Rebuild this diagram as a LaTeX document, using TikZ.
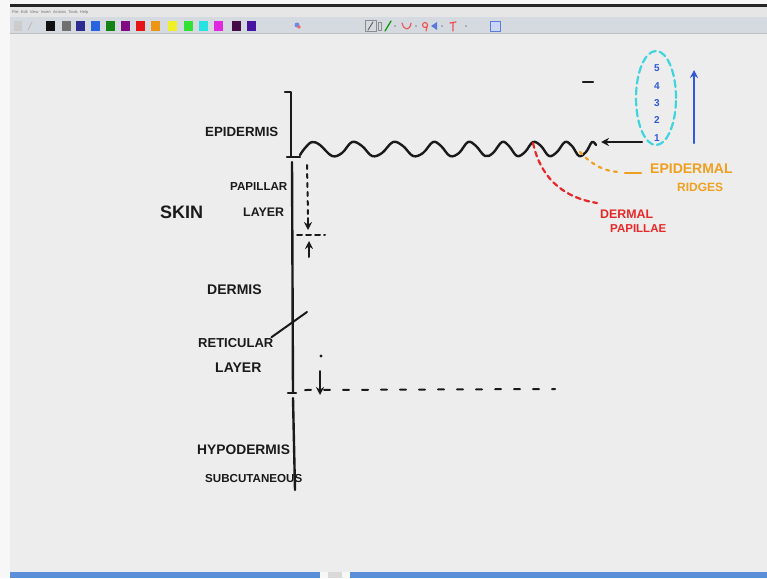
\documentclass[tikz,border=0pt]{standalone}
\usepackage{fontspec}
\setmainfont{Liberation Sans}
\usetikzlibrary{arrows.meta,shapes.geometric}
\definecolor{board}{HTML}{EDEDED}
\definecolor{toolbg}{HTML}{D5D9E0}
\definecolor{menubg}{HTML}{E6E6E6}
\definecolor{orangeM}{HTML}{F0A020}
\definecolor{redM}{HTML}{E82828}
\definecolor{cyanM}{HTML}{40D4DC}
\definecolor{blueM}{HTML}{3058D8}
\definecolor{barblue}{HTML}{5A8ED8}
\definecolor{ink}{HTML}{1A1A1A}
\definecolor{swa}{HTML}{111111}
\definecolor{swb}{HTML}{707070}
\definecolor{swc}{HTML}{2D2D91}
\definecolor{swd}{HTML}{2864E1}
\definecolor{swe}{HTML}{148214}
\definecolor{swf}{HTML}{820A82}
\definecolor{swg}{HTML}{E61414}
\definecolor{swh}{HTML}{EB9614}
\definecolor{swi}{HTML}{F0F028}
\definecolor{swj}{HTML}{32E132}
\definecolor{swk}{HTML}{28E1E1}
\definecolor{swl}{HTML}{E128E1}
\definecolor{swm}{HTML}{460A46}
\definecolor{swn}{HTML}{4614A0}
\begin{document}
\begin{tikzpicture}[x=1pt,y=-1pt,line cap=round,line join=round,
  marker/.style={line width=2.4pt,draw=ink},
  thinmark/.style={line width=2pt,draw=ink},
  lbl/.style={inner sep=0pt,anchor=west,text=ink,font=\bfseries\fontsize{#1}{#1}\selectfont},
  digit/.style={inner sep=0pt,text=blueM,font=\bfseries\fontsize{10}{10}\selectfont},
  orangeleader/.style={line width=2.2pt,draw=orangeM,dash pattern=on 3pt off 5pt},
  redleader/.style={line width=2.2pt,draw=redM,dash pattern=on 5pt off 4pt},
  guide/.style={line width=2pt,draw=ink,dash pattern=on 6pt off 13pt},
  tip/.style={-{Stealth[length=8pt,width=8pt]}}
]
% ---------- background / window chrome ----------
\useasboundingbox (0,0) rectangle (767,578);
\fill[white!97!black] (0,0) rectangle (767,578);
\fill[board] (10,33) rectangle (767,572);
\fill[black!85] (10,4.5) rectangle (767,7);
\fill[menubg] (10,7) rectangle (767,17);
\fill[toolbg] (10,17) rectangle (767,33);
\draw[black!25,line width=0.5pt] (10,33) -- (767,33);
\node[anchor=west,inner sep=0pt,text=black!55,font=\fontsize{4}{4}\selectfont] (menu) at (12,12) {File\ \ Edit\ \ View\ \ Insert\ \ Actions\ \ Tools\ \ Help};
\foreach \xx/\cc in {46/swa,62/swb,76/swc,91/swd,106/swe,121/swf,136/swg,151/swh,168/swi,184/swj,199/swk,214/swl,232/swm,247/swn}
  {\fill[fill=\cc] (\xx,21) rectangle ++(9,10);}
\fill[black!20] (14,21) rectangle ++(8,10);
\draw[black!25,line width=1pt] (28,30) -- (32,22);
\fill[blueM!70] (297,25) circle (2.5);
\fill[redM!70] (299,27) circle (1.8);
\draw[black!45,line width=0.8pt] (365,20.5) rectangle (376,31.5);
\draw[black!60,line width=1pt] (368,30) -- (373,22);
\draw[black!45,line width=0.6pt] (378,22) rectangle (381,30);
\draw[green!60!black,line width=1.2pt] (385,31) -- (391,21);
\fill[black!50] (395,26) circle (0.8);
\draw[redM!80,line width=1.1pt] (402,23) .. controls (404,31) and (410,31) .. (411,23);
\fill[black!50] (416,26) circle (0.8);
\draw[redM!80,line width=1.1pt] (425,25) circle (2.5) (427.5,25) -- (426,31);
\fill[blueM!80] (431,26) -- (437,22) -- (437,30) -- cycle;
\fill[black!50] (442,26) circle (0.8);
\draw[redM!80,line width=1.3pt] (453,31) -- (453,23) (450,23) -- (456,22);
\fill[black!50] (466,26) circle (0.8);
\draw[blueM!80,line width=0.9pt,fill=blueM!25] (490,21) rectangle (500,31);
% bottom bar
\fill[barblue] (10,572) rectangle (320,578);
\fill[barblue] (350,572) rectangle (767,578);
\fill[black!15] (328,572) rectangle (342,578);
% ---------- axis ----------
\coordinate (a0) at (291,92);
\coordinate (a1) at (291,157);
\coordinate (a2) at (292,162);
\coordinate (a3) at (293,393);
\coordinate (a4) at (293,398);
\coordinate (a5) at (295,490);
\draw[marker] (285,92) -- (a0) -- (a1);
\draw[marker] (287,157) -- (300,157);
\draw[marker] (a2) -- (a3);
\draw[marker] (288,393) -- (296,393);
\draw[marker] (a4) -- (a5);
% ---------- wave (epidermal ridges) ----------
\draw[marker] plot[smooth,tension=0.6] coordinates {(300,155) (305,148) (312,142) (320,145) (332,156) (342,153) (352,142) (362,146) (372,156) (382,153) (393,142) (403,146) (413,156) (423,153) (433,142) (441,146) (450,156) (459,153) (468,142) (476,146) (485,156) (493,153) (502,142) (509,146) (517,156) (525,152) (533,142) (541,146) (549,156) (557,152) (565,142) (572,146) (579,156) (586,152) (592,142) (596,145)};
\coordinate (peakD) at (533,143);
\coordinate (troughE) at (580,152);
% ---------- labels left ----------
\node[lbl=13.3] (epi) at (205,132) {EPIDERMIS};
\node[lbl=11.6] (pap) at (230,187) {PAPILLAR};
\node[lbl=12.4] (lay1) at (243,212) {LAYER};
\node[lbl=18] (skin) at (160,212) {SKIN};
\node[lbl=14] (derm) at (207,290) {DERMIS};
\node[lbl=13] (ret) at (198,343) {RETICULAR};
\node[lbl=14] (lay2) at (215,368) {LAYER};
\node[lbl=13.8] (hypo) at (197,450) {HYPODERMIS};
\node[lbl=11.6] (sub) at (205,478) {SUBCUTANEOUS};
% reticular pointer
\coordinate (retend) at (307,312);
\draw[thinmark] (ret.north east) ++(-2,-1) -- (retend);
% ---------- papillary layer thickness marks ----------
\coordinate (p0) at (307,165);
\coordinate (p1) at (308,215);
\draw[line width=2pt,draw=ink,dash pattern=on 4pt off 5pt] (p0) -- (p1);
\coordinate (pd0) at (308,218);
\coordinate (pd1) at (308,230);
\draw[thinmark,tip] (pd0) -- (pd1);
\coordinate (ph0) at (297,235);
\coordinate (ph1) at (325,235);
\draw[line width=2pt,draw=ink,dash pattern=on 5pt off 4pt] (ph0) -- (ph1);
\coordinate (pu0) at (309,257);
\coordinate (pu1) at (309,241);
\draw[thinmark,tip] (pu0) -- (pu1);
% ---------- reticular thickness marks ----------
\fill[ink] (321,356) circle (1.6);
\coordinate (rd0) at (320,371);
\coordinate (rd1) at (320,395);
\draw[thinmark,tip] (rd0) -- (rd1);
\coordinate (rh0) at (305,390);
\coordinate (rh1) at (555,389);
\draw[guide] (rh0) -- (rh1);
% ---------- right side ----------
\draw[marker] (583,82) -- (593,82);
\coordinate (arrS) at (642,142);
\coordinate (arrE) at (601,142);
\draw[marker,tip] (arrS) -- (arrE);
\node[draw=cyanM,line width=2.2pt,dash pattern=on 7pt off 4pt,ellipse,minimum width=40pt,minimum height=94pt,inner sep=0pt] (ell) at (656,98) {};
\node[digit] (d5) at (657,68) {5};
\node[digit] (d4) at (657,86) {4};
\node[digit] (d3) at (657,103) {3};
\node[digit] (d2) at (657,120) {2};
\node[digit] (d1) at (657,138) {1};
\coordinate (bu0) at (694,143);
\coordinate (bu1) at (694,70);
\draw[line width=2.3pt,draw=blueM,tip] (bu0) -- (bu1);
% orange leader and labels
\node[lbl=14,text=orangeM] (epr) at (650,169) {EPIDERMAL};
\node[lbl=12,text=orangeM] (rid) at (677,187) {RIDGES};
\coordinate (oe) at (618,172);
\draw[orangeleader] (troughE) .. controls (592,165) and (604,171) .. (oe);
\draw[line width=2.4pt,draw=orangeM] (625,173) -- (641,173);
% red leader and labels
\node[lbl=12.4,text=redM] (dml) at (600,214) {DERMAL};
\node[lbl=11.5,text=redM] (pae) at (610,229) {PAPILLAE};
\coordinate (re) at (597,203);
\draw[redleader] (peakD) .. controls (540,175) and (560,197) .. (re);
\end{tikzpicture}
\end{document}
